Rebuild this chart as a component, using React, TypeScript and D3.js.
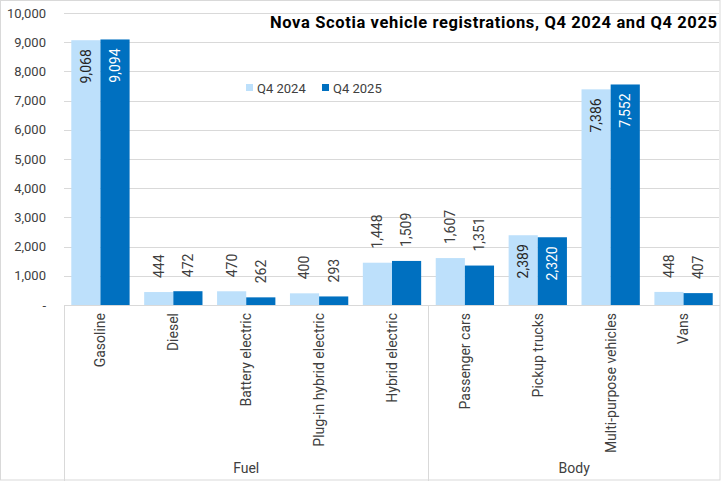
import { type FC, useEffect, useRef } from 'react';
import * as d3 from 'd3';

const categories = [
  'Gasoline',
  'Diesel',
  'Battery electric',
  'Plug-in hybrid electric',
  'Hybrid electric',
  'Passenger cars',
  'Pickup trucks',
  'Multi-purpose vehicles',
  'Vans',
];
const groups = [
  { name: 'Fuel', count: 5 },
  { name: 'Body', count: 4 },
];
const seriesNames = ['Q4 2024', 'Q4 2025'];
const q42024 = [9068, 444, 470, 400, 1448, 1607, 2389, 7386, 448];
const q42025 = [9094, 472, 262, 293, 1509, 1351, 2320, 7552, 407];
const yTicks = [0, 1000, 2000, 3000, 4000, 5000, 6000, 7000, 8000, 9000, 10000];

const width = 721;
const height = 481;
const colors = ['#bde0fb', '#0070c0'];
const gridColor = '#d9d9d9';
const textColor = '#404040';
const font = 'Roboto, "Noto Sans", sans-serif';

const App: FC = () => {
  const ref = useRef<SVGSVGElement>(null);

  useEffect(() => {
    const svg = d3.select(ref.current);
    if (!ref.current) return;
    svg.selectAll('*').remove();

    const left = 64;
    const right = 720;
    const top = 13;
    const base = 305;

    // chart border
    svg
      .append('rect')
      .attr('x', 0.5)
      .attr('y', 0.5)
      .attr('width', width - 1.5)
      .attr('height', height - 1.5)
      .attr('fill', '#fff')
      .attr('stroke', gridColor);

    const y = d3.scaleLinear().domain([0, 10000]).range([base, top]);
    const x = d3
      .scaleBand()
      .domain(categories)
      .range([left, right])
      .paddingInner(0.2)
      .paddingOuter(0.1);
    const xs = d3.scaleBand().domain(seriesNames).range([0, x.bandwidth()]);

    // gridlines
    svg
      .append('g')
      .selectAll('line')
      .data(yTicks.filter((d) => d > 0))
      .join('line')
      .attr('x1', left)
      .attr('x2', right - 1)
      .attr('y1', (d) => Math.round(y(d)) + 0.5)
      .attr('y2', (d) => Math.round(y(d)) + 0.5)
      .attr('stroke', gridColor);

    // y tick labels
    svg
      .append('g')
      .selectAll('text')
      .data(yTicks)
      .join('text')
      .attr('x', 46)
      .attr('y', (d) => y(d))
      .attr('dy', '0.35em')
      .attr('text-anchor', 'end')
      .attr('font-family', font)
      .attr('font-size', 13)
      .attr('fill', textColor)
      .text((d) => (d === 0 ? '-' : d3.format(',')(d)));

    // bars
    const data = [q42024, q42025];
    data.forEach((values, si) => {
      const g = svg.append('g');
      g.selectAll('rect')
        .data(values)
        .join('rect')
        .attr('x', (_, i) => x(categories[i])! + xs(seriesNames[si])!)
        .attr('width', xs.bandwidth())
        .attr('y', (d) => y(d))
        .attr('height', (d) => base - y(d))
        .attr('fill', colors[si]);

      // labels: inside end for tall bars, outside end otherwise
      g.selectAll('text')
        .data(values)
        .join('text')
        .attr('transform', (d, i) => {
          const cx = x(categories[i])! + xs(seriesNames[si])! + xs.bandwidth() / 2;
          const inside = d > 2000;
          const ty = inside ? y(d) + 9 : y(d) - 14;
          return `translate(${cx},${ty}) rotate(-90)`;
        })
        .attr('text-anchor', (d) => (d > 2000 ? 'end' : 'start'))
        .attr('dy', '0.35em')
        .attr('font-family', font)
        .attr('font-size', 14)
        .attr('fill', (d) => (d > 2000 ? (si === 1 ? '#ffffff' : '#262626') : textColor))
        .text((d) => d3.format(',')(d));
    });

    // category axis
    svg
      .append('line')
      .attr('x1', left)
      .attr('x2', right)
      .attr('y1', base + 0.5)
      .attr('y2', base + 0.5)
      .attr('stroke', gridColor);

    svg
      .append('g')
      .selectAll('text')
      .data(categories)
      .join('text')
      .attr('transform', (d) => `translate(${x(d)! + x.bandwidth() / 2},${base + 8}) rotate(-90)`)
      .attr('text-anchor', 'end')
      .attr('dy', '0.35em')
      .attr('font-family', font)
      .attr('font-size', 14)
      .attr('fill', textColor)
      .text((d) => d);

    // group dividers and labels
    let start = 0;
    const step = x.step();
    groups.forEach((gr) => {
      const gx0 = left + start * step;
      const gx1 = left + (start + gr.count) * step;
      svg
        .append('line')
        .attr('x1', Math.round(gx0) + 0.5)
        .attr('x2', Math.round(gx0) + 0.5)
        .attr('y1', base)
        .attr('y2', height)
        .attr('stroke', gridColor);
      svg
        .append('text')
        .attr('x', (gx0 + gx1) / 2)
        .attr('y', 473)
        .attr('text-anchor', 'middle')
        .attr('font-family', font)
        .attr('font-size', 14)
        .attr('fill', textColor)
        .text(gr.name);
      start += gr.count;
    });

    // legend
    const legend = svg.append('g');
    const lx = [246, 322];
    seriesNames.forEach((name, i) => {
      legend
        .append('rect')
        .attr('x', lx[i])
        .attr('y', 84)
        .attr('width', 7)
        .attr('height', 7)
        .attr('fill', colors[i]);
      legend
        .append('text')
        .attr('x', lx[i] + 11)
        .attr('y', 88)
        .attr('dy', '0.35em')
        .attr('font-family', font)
        .attr('font-size', 13)
        .attr('fill', textColor)
        .text(name);
    });

    // title
    svg
      .append('text')
      .attr('x', 717)
      .attr('y', 28)
      .attr('text-anchor', 'end')
      .attr('font-family', font)
      .attr('font-weight', 'bold')
      .attr('font-size', 16.5)
      .attr('textLength', 447)
      .attr('lengthAdjust', 'spacing')
      .attr('fill', '#000')
      .text('Nova Scotia vehicle registrations, Q4 2024 and Q4 2025');
  }, []);

  return (
    <svg
      ref={ref}
      width={width}
      height={height}
      style={{ position: 'absolute', left: 0, top: 0 }}
    />
  );
};

export default App;
